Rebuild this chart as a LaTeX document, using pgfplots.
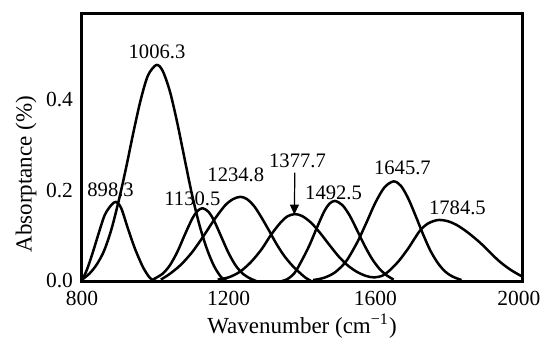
\documentclass[border=0pt]{standalone}
\usepackage{fontspec}
\setmainfont{Liberation Serif}
\usepackage{pgfplots}
\pgfplotsset{compat=1.18}
\usetikzlibrary{arrows.meta}
\begin{document}
\begin{tikzpicture}
\useasboundingbox (-41pt,-30.5pt) rectangle (229pt,140.5pt);
\begin{axis}[
  scale only axis, width=220pt, height=133.5pt,
  xmin=800, xmax=2000, ymin=0, ymax=0.587,
  xtick={800,1200,1600}, ytick={0,0.2,0.4},
  extra x ticks={2000},
  extra x tick style={xticklabel style={xshift=-1.6pt}},
  major tick length=0pt,
  axis line style={line width=1.5pt},
  /pgf/number format/assume math mode=true,
  scaled y ticks=false,
  yticklabel style={/pgf/number format/fixed,/pgf/number format/fixed zerofill,/pgf/number format/precision=1,font=\fontsize{10.75}{12}\selectfont,xshift=-1pt},
  xticklabel style={/pgf/number format/1000 sep={},font=\fontsize{10.75}{12}\selectfont,anchor=base,yshift=-12pt},
  xlabel={Wavenumber (cm\textsuperscript{−1})},
  xlabel style={font=\fontsize{11.5}{13}\selectfont,at={(axis description cs:0.5,0)},anchor=base,yshift=-26pt},
  ylabel={Absorptance (\%)},
  ylabel style={font=\fontsize{11.5}{13}\selectfont,at={(axis description cs:-0.127,0.4)},anchor=center,rotate=0},
  cycle list={{black}},
  no markers,
  every axis plot/.append style={line width=1.25pt,smooth,line join=round},
]
% 898.3
\addplot coordinates {(800,0.002)(811,0.02)(821,0.042)(833,0.072)(844,0.101)(862,0.145)(880,0.167)(893,0.174)(907,0.16)(925,0.116)(944,0.072)(966,0.031)(985,0.007)(1002,0.0)};
% 1006.3
\addplot coordinates {(800,0.003)(820,0.016)(840,0.036)(860,0.066)(880,0.113)(900,0.176)(920,0.248)(940,0.326)(960,0.398)(980,0.452)(1003,0.475)(1020,0.462)(1040,0.416)(1060,0.347)(1080,0.268)(1100,0.19)(1120,0.124)(1140,0.072)(1160,0.033)(1180,0.008)(1195,0.0)};
% 1130.5
\addplot coordinates {(995,0.004)(1020,0.016)(1040,0.035)(1060,0.064)(1080,0.101)(1100,0.136)(1115,0.154)(1129,0.16)(1145,0.152)(1160,0.133)(1180,0.097)(1200,0.061)(1220,0.033)(1240,0.015)(1260,0.005)(1275,0.0)};
% 1234.8
\addplot coordinates {(1015,0.003)(1040,0.016)(1070,0.036)(1100,0.063)(1130,0.097)(1160,0.134)(1190,0.166)(1212,0.18)(1232,0.185)(1250,0.18)(1270,0.164)(1290,0.139)(1310,0.111)(1330,0.082)(1350,0.057)(1370,0.037)(1390,0.021)(1410,0.007)(1425,0.0)};
% 1377.7 and 1784.5 (drawn as one continuous line)
\addplot coordinates {(1170,0.003)(1200,0.008)(1230,0.02)(1260,0.041)(1290,0.07)(1315,0.101)(1340,0.127)(1360,0.142)(1380,0.147)(1400,0.143)(1425,0.128)(1450,0.105)(1475,0.079)(1500,0.054)(1525,0.034)(1550,0.02)(1575,0.011)(1597,0.008)(1620,0.012)(1640,0.024)(1665,0.045)(1690,0.072)(1710,0.097)(1725,0.114)(1745,0.127)(1770,0.134)(1795,0.132)(1820,0.124)(1850,0.108)(1886,0.084)(1915,0.061)(1940,0.042)(1970,0.024)(2000,0.01)};
% 1492.5
\addplot coordinates {(1345,0.0)(1360,0.004)(1380,0.018)(1400,0.046)(1420,0.078)(1440,0.116)(1460,0.152)(1475,0.17)(1490,0.176)(1510,0.167)(1530,0.144)(1550,0.112)(1570,0.079)(1590,0.05)(1610,0.028)(1630,0.013)(1650,0.003)};
% 1645.7
\addplot coordinates {(1430,0.002)(1460,0.007)(1490,0.019)(1520,0.043)(1550,0.084)(1575,0.127)(1600,0.172)(1625,0.206)(1650,0.219)(1670,0.209)(1690,0.181)(1710,0.143)(1730,0.103)(1750,0.067)(1770,0.04)(1790,0.021)(1810,0.01)(1835,0.002)};
\begin{scope}[every node/.style={font=\fontsize{10.3}{12}\selectfont,inner sep=0pt}]
\node at (axis cs:1004.5,0.504) {1006.3};
\node at (axis cs:878,0.2) {898.3};
\node at (axis cs:1101,0.18) {1130.5};
\node at (axis cs:1219.5,0.233) {1234.8};
\node at (axis cs:1387.7,0.264) {1377.7};
\node at (axis cs:1486,0.1945) {1492.5};
\node at (axis cs:1674,0.249) {1645.7};
\node at (axis cs:1824,0.1615) {1784.5};
\end{scope}
\draw[line width=0.6pt,-{Triangle[width=4.5pt,length=5pt]}] (axis cs:1380.5,0.238) -- (axis cs:1379,0.146);
\end{axis}
\end{tikzpicture}
\end{document}
